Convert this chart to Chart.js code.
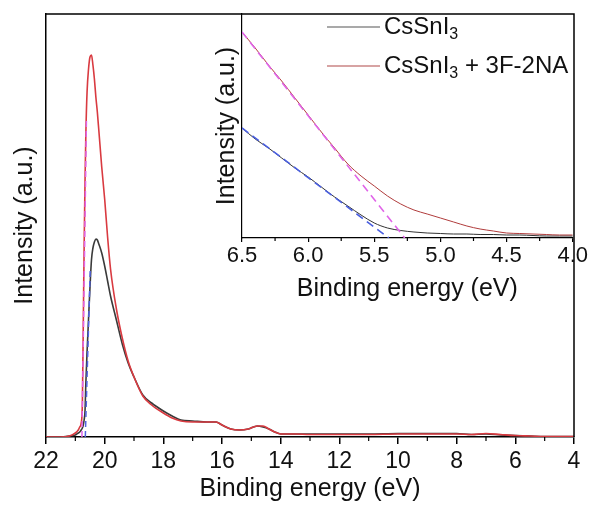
<!DOCTYPE html>
<html>
<head>
<meta charset="utf-8">
<script src="https://cdn.jsdelivr.net/npm/chart.js@4.4.1/dist/chart.umd.min.js"></script>
<style>
  body { margin: 0; background: #fff; }
  #wrap { position: relative; width: 589px; height: 506px; }
  #main { position: absolute; left: 0; top: 0; }
  #inset { position: absolute; left: 200px; top: 0; }
</style>
</head>
<body>
<div id="wrap">
  <canvas id="main" width="589" height="506"></canvas>
  <canvas id="inset" width="389" height="310"></canvas>
</div>
<script>
// ---- main panel data (binding energy in eV, intensity in a.u.) ----
const mainEnergy = [22, 21.5, 21.2, 21.0, 20.9, 20.85, 20.8, 20.76, 20.73, 20.7, 20.67, 20.64, 20.6, 20.55, 20.5,
  20.45, 20.4, 20.35, 20.3, 20.25, 20.2, 20.1, 20.0, 19.9, 19.8, 19.6, 19.4, 19.2, 19.0, 18.7, 18.4, 18.0, 17.7,
  17.4, 17.0, 16.5, 16.2, 16.0, 15.7, 15.4, 15.1, 14.8, 14.6, 14.4, 14.2, 14.0, 13.5, 13.0, 12.0, 11.0, 10.0,
  9.0, 8.0, 7.5, 7.0, 6.5, 6.0, 5.5, 5.0, 4.5, 4.0];
const mainPristine = [0, 0, 1, 2, 4, 5, 7, 9, 12, 17, 26, 55, 85, 118, 150,
  177, 189, 195, 198, 197, 193, 184, 171, 156, 141, 117, 93, 74, 60, 42, 34, 26, 21,
  17, 16, 15, 15, 12, 8, 7, 8, 11, 10, 8, 5, 3, 3, 3, 3, 3, 3.5,
  3.5, 3.5, 2.5, 3, 2, 1.5, 1, 0.5, 0.5, 0.5];
const mainTreated = [0, 0, 1, 4, 7, 10, 14, 34, 110, 190, 255, 305, 345, 368, 380,
  382, 372, 358, 340, 325, 307, 270, 238, 200, 168, 128, 99, 76, 60, 41, 32, 24, 19,
  16, 15, 15, 15, 12, 8, 7, 8, 11, 11, 8, 5, 3, 3, 2.5, 2.5, 2.5, 3,
  3, 3, 2.5, 3.5, 2.5, 1.5, 1, 0.5, 0.5, 0.5];
// leading-edge tangents
const mainFitPristineE = [20.66, 20.49];
const mainFitPristineI = [0, 170];
const mainFitTreatedE = [20.775, 20.62];
const mainFitTreatedI = [0, 320];
const mainMinorTicks = [5, 7, 9, 11, 13, 15, 17, 19, 21];

// ---- inset data ----
const insetEnergy = [6.5, 6.4, 6.3, 6.2, 6.1, 6.0, 5.9, 5.8, 5.7, 5.6, 5.5, 5.4, 5.3, 5.2, 5.1, 5.0,
  4.9, 4.8, 4.7, 4.6, 4.5, 4.4, 4.3, 4.2, 4.1, 4.0];
const insetPristine = [110, 99, 90, 80, 70, 61, 51, 41, 32, 23, 15, 10, 7.5, 6, 5, 4.5,
  4, 4, 3.5, 3.5, 3, 3, 2.5, 2, 2, 2];
const insetTreated = [206, 190, 173, 157, 140, 123, 106, 90, 74, 62, 52, 42, 34, 28, 24, 20,
  16, 12, 9, 7, 5, 4.5, 4, 3.5, 3, 3];
const insetFitPristineE = [6.5, 5.39];
const insetFitPristineI = [110, 0];
const insetFitTreatedE = [6.5, 5.27];
const insetFitTreatedI = [206, 0];
const insetMinorTicks = [4.25, 4.75, 5.25, 5.75, 6.25];

const FONT = "'Liberation Sans', Arial, sans-serif";
Chart.defaults.font.family = FONT;
Chart.defaults.color = '#111';

function pts(xs, ys) {
  return xs.map((x, i) => ({ x: x, y: ys[i] }));
}

// frame + minor ticks
const framePlugin = {
  id: 'frame',
  afterDraw(chart, args, opts) {
    const a = chart.chartArea, ctx = chart.ctx;
    const xs = chart.scales.x;
    ctx.save();
    ctx.strokeStyle = '#000';
    ctx.lineWidth = 1.5;
    if (opts.box) {
      ctx.beginPath();
      ctx.moveTo(a.left, a.top);
      ctx.lineTo(a.right, a.top);
      ctx.lineTo(a.right, a.bottom);
      ctx.stroke();
    }
    ctx.lineWidth = 1.2;
    (opts.minor || []).forEach(v => {
      const px = xs.getPixelForValue(v);
      ctx.beginPath();
      ctx.moveTo(px, a.bottom);
      ctx.lineTo(px, a.bottom + opts.minorLen);
      ctx.stroke();
    });
    ctx.restore();
  }
};

// legend with subscripts
const legendPlugin = {
  id: 'subLegend',
  afterDraw(chart, args, opts) {
    const ctx = chart.ctx;
    ctx.save();
    opts.items.forEach(it => {
      ctx.strokeStyle = it.color;
      ctx.lineWidth = 1.2;
      ctx.beginPath();
      ctx.moveTo(opts.x, it.y);
      ctx.lineTo(opts.x + opts.len, it.y);
      ctx.stroke();
      let x = opts.x + opts.len + 4;
      ctx.fillStyle = '#111';
      ctx.textBaseline = 'middle';
      it.parts.forEach(p => {
        const size = p.sub ? 16 : 24;
        ctx.font = size + 'px ' + FONT;
        ctx.fillText(p.t, x, it.y + (p.sub ? 8 : 0));
        x += ctx.measureText(p.t).width;
      });
    });
    ctx.restore();
  }
};

function line(data, color, width, dash) {
  return {
    data: data,
    borderColor: color,
    borderWidth: width,
    borderDash: dash || [],
    pointRadius: 0,
    fill: false,
    cubicInterpolationMode: 'monotone'
  };
}

new Chart(document.getElementById('main'), {
  type: 'line',
  data: {
    datasets: [
      line(pts(mainFitTreatedE, mainFitTreatedI), '#e065e8', 1.5, [6, 4]),
      line(pts(mainFitPristineE, mainFitPristineI), '#5264e0', 1.5, [6, 4]),
      line(pts(mainEnergy, mainTreated), '#d93a40', 1.6),
      line(pts(mainEnergy, mainPristine), '#3a3a3a', 1.6)
    ]
  },
  options: {
    responsive: false,
    animation: false,
    layout: { padding: { top: 14, right: 15, left: 0, bottom: 0 } },
    plugins: {
      legend: { display: false },
      tooltip: { enabled: false },
      frame: { box: true, minor: mainMinorTicks, minorLen: 4 }
    },
    scales: {
      x: {
        type: 'linear', min: 4, max: 22, reverse: true,
        ticks: { stepSize: 2, font: { size: 23 }, padding: 4, maxRotation: 0, autoSkip: false },
        grid: { display: true, drawOnChartArea: false, drawTicks: true, tickLength: 7, color: '#000', lineWidth: 1.5 },
        border: { display: true, color: '#000', width: 1.5 },
        title: { display: true, text: 'Binding energy (eV)', font: { size: 25 }, padding: { top: 0, bottom: 2 } },
        afterFit: s => { s.height = 69; }
      },
      y: {
        type: 'linear', min: 0, max: 423,
        ticks: { display: false },
        grid: { display: false },
        border: { display: true, color: '#000', width: 1.5 },
        title: { display: true, text: 'Intensity (a.u.)', font: { size: 25 }, padding: { top: 10, bottom: 0 } },
        afterFit: s => { s.width = 46; }
      }
    }
  },
  plugins: [framePlugin]
});

new Chart(document.getElementById('inset'), {
  type: 'line',
  data: {
    datasets: [
      line(pts(insetFitTreatedE, insetFitTreatedI), '#e065e8', 1.6, [8, 5]),
      line(pts(insetFitPristineE, insetFitPristineI), '#4a5fe0', 1.6, [8, 5]),
      line(pts(insetEnergy, insetTreated), '#b03c3c', 1),
      line(pts(insetEnergy, insetPristine), '#333333', 1)
    ]
  },
  options: {
    responsive: false,
    animation: false,
    layout: { padding: { top: 14, right: 15, left: 0, bottom: 0 } },
    plugins: {
      legend: { display: false },
      tooltip: { enabled: false },
      frame: { box: false, minor: insetMinorTicks, minorLen: 3 },
      subLegend: {
        x: 127, len: 53,
        items: [
          { y: 27, color: '#555555', parts: [{ t: 'CsSnI' }, { t: '3', sub: true }] },
          { y: 66, color: '#b04848', parts: [{ t: 'CsSnI' }, { t: '3', sub: true }, { t: ' + 3F-2NA' }] }
        ]
      }
    },
    scales: {
      x: {
        type: 'linear', min: 4, max: 6.5, reverse: true,
        ticks: { stepSize: 0.5, font: { size: 22 }, padding: 1, maxRotation: 0, autoSkip: false,
          callback: v => v.toFixed(1) },
        grid: { display: true, drawOnChartArea: false, drawTicks: true, tickLength: 4, color: '#000', lineWidth: 1.2 },
        border: { display: true, color: '#000', width: 1.2 },
        title: { display: true, text: 'Binding energy (eV)', font: { size: 25 }, padding: { top: 0, bottom: 6 } },
        afterFit: s => { s.height = 72; }
      },
      y: {
        type: 'linear', min: 0, max: 224,
        ticks: { display: false },
        grid: { display: false },
        border: { display: true, color: '#000', width: 1.2 },
        title: { display: true, text: 'Intensity (a.u.)', font: { size: 25 }, padding: { top: 12, bottom: 0 } },
        afterFit: s => { s.width = 42; }
      }
    }
  },
  plugins: [framePlugin, legendPlugin]
});
</script>
</body>
</html>
